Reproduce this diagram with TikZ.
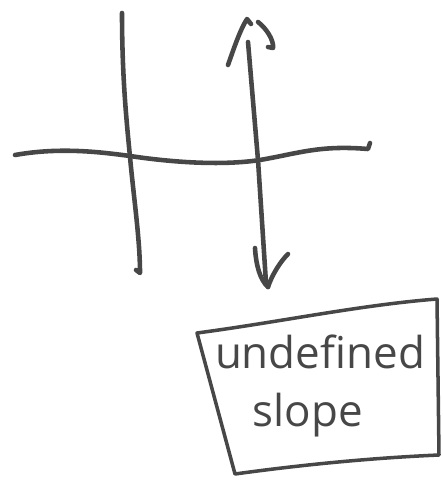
\documentclass[tikz,border=0pt]{standalone}
\usepackage{fontspec}
\setmainfont{Open Sans}
\begin{document}
\begin{tikzpicture}[x=0.02cm,y=-0.02cm,
  ink/.style={draw=black!72, line width=2.6pt, line cap=round, line join=round},
  boxink/.style={draw=black!72, line width=2pt, line cap=round, line join=round},
  hand/.style={text=black!72, font=\fontsize{25}{28}\selectfont, inner sep=0pt}]
\useasboundingbox (0,0) rectangle (443,487);
% y-axis
\draw[ink] (122,13) .. controls (122,80) and (127,125) .. (130,157)
  .. controls (134,200) and (140,240) .. (140,273) -- (136,270);
% x-axis
\draw[ink] (15,155) .. controls (60,147) and (100,152) .. (130,156)
  .. controls (170,162) and (220,166) .. (260,160)
  .. controls (300,153) and (320,145) .. (368,149) -- (370,143);
% vertical line with arrows
\coordinate (top) at (247,19);
\coordinate (bot) at (268,287);
\draw[ink] (248,42) -- (258,160) -- (266,283);
\draw[ink] (228,65) .. controls (234,48) and (240,30) .. (top) -- (251,24);
\draw[ink] (258,22) .. controls (266,28) and (274,40) .. (273,48) -- (268,47);
\draw[ink] (255,248) .. controls (256,265) and (260,280) .. (bot);
\draw[ink] (288,254) .. controls (280,262) and (272,275) .. (bot);
% box
\draw[boxink] (197,333) .. controls (280,322) and (360,305) .. (437,299)
  -- (439,455) .. controls (370,458) and (300,465) .. (235,474) -- cycle;
\node[hand] (undef) at (320,352) {undefined};
\node[hand] (slope) at (308,415) {slope};
\end{tikzpicture}
\end{document}
